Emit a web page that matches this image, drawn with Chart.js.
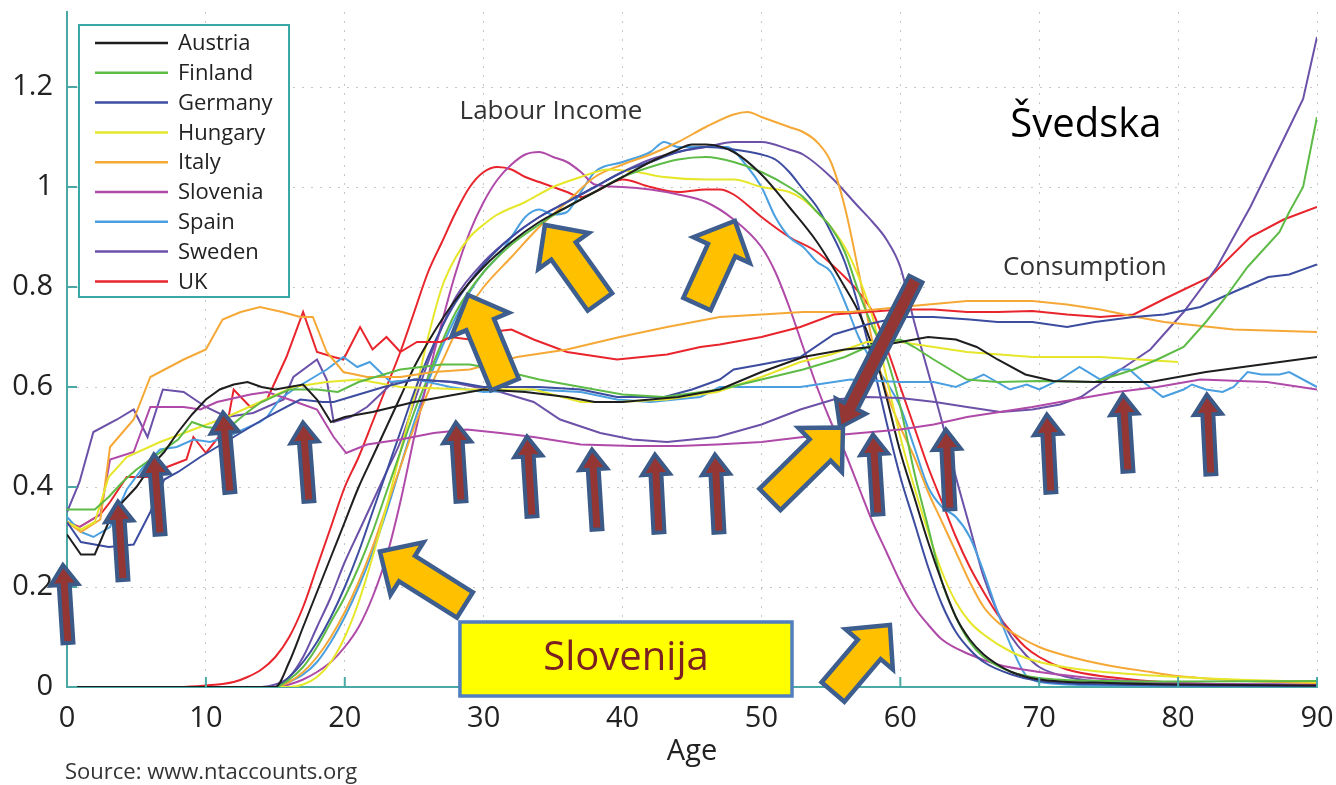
<!DOCTYPE html>
<html>
<head>
<meta charset="utf-8">
<script src="https://cdn.jsdelivr.net/npm/chart.js@4.4.0/dist/chart.umd.min.js"></script>
<style>
html, body { margin: 0; padding: 0; background: #fff; }
</style>
</head>
<body>
<canvas id="grafico" width="1336" height="785"></canvas>
<script>
const countries = ['Austria', 'Finland', 'Germany', 'Hungary', 'Italy', 'Slovenia', 'Spain', 'Sweden', 'UK'];
const colors = ['#1e1e1e', '#5dbb46', '#3c4da0', '#e6e62a', '#f5a836', '#b04aa8', '#4a9fe0', '#6b51a8', '#e8242c'];
const xTicks = [0, 10, 20, 30, 40, 50, 60, 70, 80, 90];
const yTicks = [0, 0.2, 0.4, 0.6, 0.8, 1, 1.2];

// labour income by age: [age, value]
const labAustria = [[0,0],[15,0],[16,0.05],[17,0.12],[18,0.19],[19,0.26],[20,0.33],[21,0.4],[22,0.46],[23,0.52],[24,0.58],[25,0.64],[26,0.69],[27,0.735],[28,0.775],[30,0.84],[32,0.89],[34,0.93],[36,0.96],[38,0.99],[40,1.02],[42,1.05],[44,1.075],[45,1.085],[46,1.085],[48,1.07],[50,1.025],[52,0.96],[54,0.89],[56,0.8],[57,0.75],[58,0.68],[59,0.58],[60,0.47],[61,0.38],[62,0.29],[63,0.21],[64,0.14],[65,0.095],[66,0.065],[67,0.045],[68,0.03],[70,0.015],[75,0.008],[80,0.005],[90,0.003]];
const labFinland = [[0,0],[15,0],[16,0.015],[17,0.04],[18,0.08],[19,0.13],[20,0.18],[21,0.24],[22,0.31],[23,0.39],[24,0.47],[25,0.55],[26,0.62],[27,0.69],[28,0.75],[30,0.83],[32,0.885],[34,0.925],[36,0.96],[38,0.99],[40,1.02],[42,1.04],[44,1.055],[46,1.06],[48,1.05],[50,1.03],[52,1.0],[53,0.98],[54,0.95],[55,0.92],[56,0.87],[57,0.79],[58,0.72],[59,0.66],[60,0.56],[61,0.43],[62,0.32],[63,0.21],[64,0.14],[65,0.09],[66,0.06],[68,0.03],[70,0.018],[75,0.012],[80,0.011],[90,0.012]];
const labGermany = [[0,0],[15,0],[16,0.02],[17,0.05],[18,0.09],[19,0.14],[20,0.2],[21,0.27],[22,0.35],[23,0.43],[24,0.51],[25,0.59],[26,0.66],[27,0.72],[28,0.77],[30,0.845],[32,0.9],[34,0.94],[36,0.97],[38,1.0],[40,1.03],[42,1.05],[44,1.07],[46,1.08],[48,1.075],[50,1.065],[51,1.055],[52,1.03],[53,0.995],[54,0.96],[55,0.91],[56,0.85],[57,0.76],[58,0.65],[59,0.53],[60,0.42],[61,0.33],[62,0.24],[63,0.165],[64,0.11],[65,0.075],[66,0.05],[68,0.025],[70,0.012],[75,0.005],[90,0.002]];
const labHungary = [[0,0],[16,0],[17,0.005],[18,0.02],[19,0.05],[20,0.1],[21,0.17],[22,0.26],[23,0.36],[24,0.47],[25,0.58],[26,0.7],[27,0.8],[28,0.86],[29,0.9],[30,0.925],[31,0.945],[33,0.97],[35,1.0],[37,1.02],[39,1.035],[41,1.03],[43,1.02],[46,1.015],[48,1.015],[50,1.0],[52,0.99],[53,0.975],[54,0.95],[55,0.92],[56,0.88],[57,0.82],[58,0.74],[59,0.62],[60,0.5],[61,0.4],[62,0.31],[63,0.23],[64,0.17],[65,0.13],[66,0.105],[68,0.07],[70,0.05],[73,0.035],[76,0.027],[80,0.02],[85,0.014],[90,0.01]];
const labItaly = [[0,0],[15,0],[16,0.01],[17,0.03],[18,0.06],[19,0.1],[20,0.15],[21,0.21],[22,0.28],[23,0.36],[24,0.44],[25,0.52],[26,0.59],[27,0.65],[28,0.71],[29,0.76],[30,0.8],[32,0.86],[34,0.92],[36,0.97],[38,1.02],[40,1.045],[42,1.065],[44,1.09],[46,1.12],[48,1.145],[49,1.15],[50,1.14],[52,1.12],[53,1.11],[54,1.09],[55,1.05],[56,0.96],[57,0.83],[58,0.69],[59,0.59],[60,0.52],[61,0.46],[62,0.39],[63,0.33],[64,0.27],[65,0.21],[66,0.16],[67,0.13],[68,0.11],[70,0.08],[72,0.062],[75,0.043],[78,0.03],[80,0.022],[85,0.012],[90,0.008]];
const labSlovenia = [[0,0],[15,0],[16,0.005],[17,0.015],[18,0.03],[19,0.05],[20,0.08],[21,0.12],[22,0.18],[23,0.26],[24,0.37],[25,0.5],[26,0.62],[27,0.73],[28,0.83],[29,0.91],[30,0.97],[31,1.015],[32,1.045],[33,1.065],[34,1.07],[35,1.06],[36,1.05],[37,1.03],[38,1.005],[40,1.0],[42,0.995],[44,0.985],[46,0.97],[48,0.935],[50,0.88],[51,0.83],[52,0.76],[53,0.68],[54,0.6],[55,0.53],[56,0.47],[57,0.4],[58,0.33],[59,0.27],[60,0.21],[61,0.16],[62,0.125],[63,0.095],[65,0.065],[67,0.045],[70,0.03],[75,0.015],[80,0.008],[90,0.004]];
const labSpain = [[0,0],[15,0],[16,0.01],[17,0.025],[18,0.05],[19,0.09],[20,0.14],[21,0.2],[22,0.27],[23,0.35],[24,0.44],[25,0.53],[26,0.61],[27,0.68],[28,0.74],[29,0.79],[30,0.83],[31,0.86],[32,0.9],[33,0.94],[34,0.955],[35,0.945],[36,0.95],[37,0.99],[38,1.03],[40,1.05],[42,1.07],[43,1.09],[44,1.08],[46,1.08],[47.5,1.08],[49,1.04],[50,1.0],[51,0.94],[52,0.9],[53,0.88],[54,0.85],[55,0.83],[56,0.77],[57,0.7],[58,0.65],[59,0.61],[60,0.56],[61,0.48],[62,0.4],[63,0.36],[64,0.34],[65,0.3],[66,0.23],[67,0.15],[68,0.08],[69,0.025],[70,0.01],[75,0.003],[90,0.002]];
const labSweden = [[0,0],[14,0],[15,0.005],[16,0.02],[17,0.06],[18,0.12],[19,0.18],[20,0.25],[21,0.31],[22,0.37],[23,0.43],[24,0.49],[25,0.57],[26,0.65],[27,0.72],[28,0.78],[30,0.85],[32,0.9],[34,0.94],[36,0.97],[38,1.0],[40,1.03],[42,1.055],[44,1.07],[46,1.08],[48,1.09],[50,1.09],[52,1.075],[53,1.065],[55,1.02],[57,0.96],[58,0.93],[59,0.895],[60,0.84],[61,0.73],[62,0.63],[63,0.53],[64,0.42],[65,0.32],[66,0.22],[67,0.15],[68,0.1],[69,0.065],[70,0.04],[72,0.02],[75,0.01],[90,0.005]];
const labUK = [[0,0],[8,0],[10,0.003],[12,0.01],[13,0.02],[14,0.035],[15,0.06],[16,0.1],[17,0.16],[18,0.24],[19,0.32],[20,0.4],[21,0.46],[22,0.53],[23,0.6],[24,0.67],[25,0.75],[26,0.83],[27,0.89],[28,0.95],[29,1.0],[30,1.03],[31,1.04],[32,1.035],[33,1.02],[34,1.01],[35,1.0],[36,0.99],[37,0.98],[38,0.99],[40,1.015],[42,1.0],[44,0.99],[46,0.995],[47,0.995],[48,0.985],[50,0.94],[52,0.9],[54,0.87],[56,0.82],[57,0.79],[58,0.75],[59,0.68],[60,0.6],[61,0.52],[62,0.44],[63,0.37],[64,0.3],[65,0.24],[66,0.19],[67,0.145],[68,0.11],[69,0.08],[70,0.06],[72,0.035],[75,0.02],[80,0.008],[90,0.003]];

// consumption by age: [age, value]
const conAustria = [[0,0.305],[1,0.265],[2,0.265],[3,0.33],[4,0.37],[5,0.4],[6,0.44],[7,0.47],[8,0.51],[9,0.545],[10,0.575],[11,0.595],[12,0.605],[13,0.61],[14,0.6],[15,0.595],[16,0.6],[17,0.605],[18,0.575],[19,0.53],[20,0.54],[22,0.55],[25,0.57],[28,0.585],[30,0.595],[33,0.59],[36,0.58],[38,0.57],[40,0.57],[42,0.575],[44,0.58],[47,0.595],[50,0.63],[53,0.66],[56,0.675],[58,0.68],[60,0.69],[62,0.7],[64,0.695],[65.5,0.68],[67,0.655],[69,0.625],[71,0.612],[74,0.61],[78,0.61],[80,0.62],[82,0.63],[86,0.645],[90,0.66]];
const conFinland = [[0,0.355],[2,0.355],[3,0.38],[4,0.41],[5,0.435],[6,0.455],[8,0.495],[9,0.53],[10,0.52],[11.5,0.515],[13,0.55],[14,0.57],[16,0.595],[18,0.595],[19.5,0.59],[21,0.61],[24,0.635],[27,0.645],[29,0.645],[31,0.635],[34,0.615],[37,0.6],[40,0.585],[43,0.58],[47,0.595],[50,0.615],[53,0.635],[56,0.66],[58,0.685],[60,0.695],[61,0.68],[62.4,0.655],[64.8,0.615],[67,0.61],[70,0.612],[74,0.61],[76.8,0.635],[78.5,0.655],[80.4,0.68],[82,0.73],[83.3,0.775],[85,0.84],[87.3,0.91],[88,0.95],[89,1.0],[90,1.14]];
const conGermany = [[0,0.33],[1,0.29],[3,0.28],[4.8,0.285],[6,0.35],[7,0.415],[8,0.43],[9.6,0.46],[12,0.5],[14.4,0.54],[16.8,0.575],[18.4,0.57],[19.2,0.57],[21,0.585],[22.8,0.6],[25,0.615],[28,0.61],[30,0.6],[34,0.6],[37,0.595],[39.6,0.58],[43,0.58],[45,0.595],[47,0.615],[48,0.635],[50,0.645],[52.8,0.66],[55.2,0.705],[57.6,0.725],[60,0.74],[62.4,0.74],[65,0.735],[67,0.73],[69.5,0.73],[72,0.72],[74,0.73],[76.8,0.74],[79,0.745],[81.6,0.76],[84,0.79],[86.5,0.82],[88,0.825],[90,0.845]];
const conHungary = [[0,0.33],[1,0.315],[2,0.33],[3,0.42],[4.3,0.46],[6.7,0.49],[9.1,0.515],[11.5,0.54],[13.9,0.57],[16.3,0.6],[18.7,0.61],[21,0.615],[24,0.6],[28.8,0.595],[33.6,0.595],[37,0.57],[39.6,0.57],[43.2,0.575],[46.8,0.59],[50,0.62],[52.8,0.65],[55,0.665],[57.6,0.69],[60,0.69],[64.8,0.67],[69.5,0.66],[74.4,0.66],[80,0.65]];
const conItaly = [[0,0.33],[1,0.31],[2.4,0.335],[3.1,0.48],[4.8,0.535],[6,0.62],[8.4,0.655],[10,0.675],[11.2,0.735],[12.5,0.75],[13.9,0.76],[15.5,0.75],[16.8,0.74],[17.7,0.74],[18.7,0.67],[19.9,0.63],[21.6,0.62],[24,0.62],[26.4,0.63],[29,0.635],[32.4,0.66],[36,0.675],[39.8,0.7],[43.2,0.72],[47,0.74],[50,0.745],[53,0.75],[56.4,0.75],[60,0.76],[64.8,0.772],[69.5,0.772],[72,0.765],[74.4,0.755],[77,0.74],[79,0.73],[84,0.715],[90,0.71]];
const conSlovenia = [[0,0.325],[0.9,0.32],[2.4,0.345],[3.1,0.455],[4.8,0.47],[6,0.56],[8.4,0.56],[9.6,0.555],[10.8,0.57],[13.2,0.585],[14.4,0.59],[16,0.575],[18,0.555],[19.2,0.5],[20.1,0.468],[21.6,0.485],[24,0.495],[26.4,0.508],[28.8,0.515],[31.2,0.508],[33.6,0.5],[37,0.485],[40.7,0.482],[44,0.482],[46.8,0.485],[50,0.49],[53,0.5],[55.9,0.505],[60,0.515],[62.4,0.525],[64.8,0.54],[69.5,0.56],[72.5,0.575],[75.6,0.59],[78.5,0.6],[81.6,0.615],[86.4,0.61],[90,0.595]];
const conSpain = [[0,0.34],[1,0.31],[1.9,0.3],[3.1,0.32],[4.3,0.395],[5.5,0.44],[6.7,0.475],[7.9,0.48],[9.1,0.495],[10.3,0.49],[11.5,0.5],[13.9,0.53],[14.4,0.54],[15.3,0.575],[16.3,0.595],[17.5,0.615],[18.7,0.635],[19.9,0.66],[20.9,0.64],[21.8,0.65],[23.3,0.61],[25.2,0.615],[27.6,0.6],[30,0.59],[33.6,0.595],[37,0.59],[39.6,0.575],[42,0.57],[45.6,0.58],[47,0.6],[50,0.6],[52.8,0.6],[56.4,0.615],[60,0.61],[62.4,0.61],[64,0.6],[66,0.625],[67.9,0.595],[69.1,0.605],[70,0.595],[71.5,0.615],[72.9,0.64],[74.4,0.615],[75.8,0.635],[76.5,0.635],[77.5,0.61],[78.9,0.58],[80.4,0.595],[81,0.605],[82,0.595],[83.2,0.59],[84,0.6],[85,0.63],[86,0.625],[87.3,0.625],[88,0.63],[90,0.6]];
const conSweden = [[0,0.35],[0.9,0.41],[1.9,0.51],[3.6,0.535],[4.8,0.555],[5.8,0.5],[6.9,0.595],[8.4,0.59],[10,0.56],[11.5,0.54],[13.4,0.548],[15.6,0.575],[16.3,0.62],[18,0.655],[18.7,0.615],[19.2,0.53],[20.4,0.54],[21.6,0.56],[23.5,0.61],[25.2,0.615],[27.6,0.61],[31.2,0.59],[33.6,0.57],[35.5,0.535],[38.4,0.508],[40.7,0.495],[43.2,0.49],[46.8,0.5],[50,0.525],[52.8,0.555],[55.2,0.575],[57.6,0.58],[60,0.578],[62.5,0.57],[64.8,0.56],[67.2,0.55],[69.5,0.555],[71.5,0.565],[73,0.58],[75.6,0.63],[78,0.675],[80.4,0.75],[82.8,0.84],[85.2,0.96],[87.6,1.096],[89,1.176],[90,1.3]];
const conUK = [[0,0.33],[0.9,0.32],[2.4,0.345],[3.1,0.37],[4.3,0.42],[6,0.42],[7.2,0.44],[8.6,0.455],[9.1,0.5],[10,0.468],[11.5,0.52],[12,0.595],[13.2,0.56],[14.4,0.575],[15.8,0.66],[17,0.75],[18,0.67],[19.2,0.66],[19.9,0.655],[21.1,0.72],[22,0.675],[23,0.7],[24,0.67],[25.2,0.69],[26.9,0.69],[27.6,0.7],[29,0.695],[30.5,0.71],[32,0.715],[33.6,0.695],[36,0.67],[39.6,0.655],[43.2,0.665],[45.6,0.68],[47,0.685],[50,0.7],[52.8,0.72],[55.2,0.745],[57.6,0.75],[60,0.755],[62.4,0.755],[64.8,0.75],[67,0.75],[69.5,0.752],[72,0.745],[74.4,0.74],[76.8,0.745],[79,0.776],[82.3,0.82],[85.2,0.9],[87.6,0.935],[90,0.96]];

const labour = [labAustria, labFinland, labGermany, labHungary, labItaly, labSlovenia, labSpain, labSweden, labUK];
const consumption = [conAustria, conFinland, conGermany, conHungary, conItaly, conSlovenia, conSpain, conSweden, conUK];

// annotations in data units: [tailAge, tailValue, tipAge, tipValue]
const upArrows = [
    [0.07, 0.088, -0.29, 0.244], [4.03, 0.214, 3.67, 0.371], [6.7, 0.305, 6.26, 0.465],
    [11.73, 0.389, 11.23, 0.549], [17.42, 0.371, 16.99, 0.529], [28.37, 0.371, 28.0, 0.529],
    [33.48, 0.341, 33.12, 0.501], [38.16, 0.315, 37.8, 0.475], [42.62, 0.309, 42.33, 0.465],
    [46.94, 0.309, 46.65, 0.465], [58.39, 0.345, 58.03, 0.505], [63.57, 0.355, 63.28, 0.515],
    [70.84, 0.389, 70.55, 0.545], [76.39, 0.431, 76.03, 0.585], [82.36, 0.425, 82.07, 0.585]
];
const orangeArrows = [
    [28.65, 0.164, 22.53, 0.271], [31.53, 0.605, 28.87, 0.784], [38.37, 0.77, 34.41, 0.924],
    [45.36, 0.766, 48.09, 0.932], [50.61, 0.375, 55.87, 0.519], [55.15, -0.01, 59.25, 0.124]
];
const bigArrow = [61.12, 0.816, 55.65, 0.519];

const font = '"Open Sans", "DejaVu Sans", sans-serif';

function blockArrow(ctx, x1, y1, x2, y2, shaft, head, headLen, fill, stroke, lw) {
    const len = Math.hypot(x2 - x1, y2 - y1);
    const ux = (x2 - x1) / len, uy = (y2 - y1) / len;
    const nx = -uy, ny = ux;
    const bx = x2 - ux * headLen, by = y2 - uy * headLen;
    ctx.beginPath();
    ctx.moveTo(x1 + nx * shaft / 2, y1 + ny * shaft / 2);
    ctx.lineTo(bx + nx * shaft / 2, by + ny * shaft / 2);
    ctx.lineTo(bx + nx * head / 2, by + ny * head / 2);
    ctx.lineTo(x2, y2);
    ctx.lineTo(bx - nx * head / 2, by - ny * head / 2);
    ctx.lineTo(bx - nx * shaft / 2, by - ny * shaft / 2);
    ctx.lineTo(x1 - nx * shaft / 2, y1 - ny * shaft / 2);
    ctx.closePath();
    ctx.fillStyle = fill;
    ctx.fill();
    ctx.lineJoin = 'miter';
    ctx.lineWidth = lw;
    ctx.strokeStyle = stroke;
    ctx.stroke();
}

const decorations = {
    id: 'decorations',
    afterDraw(chart) {
        const ctx = chart.ctx;
        const xs = chart.scales.x, ys = chart.scales.y;
        const area = chart.chartArea;
        const px = a => xs.getPixelForValue(a);
        const py = v => ys.getPixelForValue(v);
        ctx.save();

        // short inward ticks on both axes
        ctx.strokeStyle = '#4aa9a5';
        ctx.lineWidth = 2;
        yTicks.forEach(v => {
            ctx.beginPath(); ctx.moveTo(area.left, py(v)); ctx.lineTo(area.left + 10, py(v)); ctx.stroke();
        });
        xTicks.forEach(a => {
            ctx.beginPath(); ctx.moveTo(px(a), area.bottom); ctx.lineTo(px(a), area.bottom - 10); ctx.stroke();
        });

        // legend
        const lx = area.left + 12, ly = area.top + 13;
        ctx.fillStyle = '#fff';
        ctx.fillRect(lx, ly, 210, 272);
        ctx.strokeStyle = '#3aa8a6';
        ctx.lineWidth = 2;
        ctx.strokeRect(lx, ly, 210, 272);
        ctx.font = '22px ' + font;
        ctx.textBaseline = 'middle';
        ctx.textAlign = 'left';
        countries.forEach((c, i) => {
            const y = ly + 18 + i * 29.8;
            ctx.strokeStyle = colors[i];
            ctx.lineWidth = 2.5;
            ctx.beginPath(); ctx.moveTo(lx + 16, y); ctx.lineTo(lx + 89, y); ctx.stroke();
            ctx.fillStyle = '#222';
            ctx.fillText(c, lx + 99, y + 1);
        });

        // labels
        ctx.textAlign = 'center';
        ctx.fillStyle = '#333';
        ctx.font = '26px ' + font;
        ctx.fillText('Labour Income', px(34.85), py(1.15));
        ctx.fillText('Consumption', px(73.29), py(0.838));
        ctx.fillStyle = '#000';
        ctx.font = '40px ' + font;
        ctx.fillText('Švedska', px(73.36), py(1.122));

        // source
        ctx.textAlign = 'left';
        ctx.fillStyle = '#333';
        ctx.font = '22px ' + font;
        ctx.fillText('Source: www.ntaccounts.org', area.left - 2, chart.height - 12);

        // arrows
        upArrows.forEach(a => blockArrow(ctx, px(a[0]), py(a[1]), px(a[2]), py(a[3]), 11, 28, 20, '#943634', '#3b5a87', 4));
        blockArrow(ctx, px(bigArrow[0]), py(bigArrow[1]), px(bigArrow[2]), py(bigArrow[3]), 15, 34, 24, '#943634', '#3b5a87', 4);
        orangeArrows.forEach(a => blockArrow(ctx, px(a[0]), py(a[1]), px(a[2]), py(a[3]), 30, 62, 32, '#ffc000', '#3d5e8e', 4.5));

        // Slovenija box
        const bx1 = px(28.29), bx2 = px(52.2), by1 = py(0.13), by2 = py(-0.018);
        ctx.fillStyle = '#ffff00';
        ctx.fillRect(bx1, by1, bx2 - bx1, by2 - by1);
        ctx.strokeStyle = '#4f7fc0';
        ctx.lineWidth = 3.5;
        ctx.strokeRect(bx1, by1, bx2 - bx1, by2 - by1);
        ctx.fillStyle = '#7b1f22';
        ctx.font = '40px ' + font;
        ctx.textAlign = 'center';
        ctx.textBaseline = 'middle';
        ctx.fillText('Slovenija', (bx1 + bx2) / 2, (by1 + by2) / 2);

        ctx.restore();
    }
};

const datasets = [];
consumption.forEach((serie, i) => {
    datasets.push({
        label: countries[i] + ' consumption',
        data: serie.map(p => ({ x: p[0], y: p[1] })),
        borderColor: colors[i],
        borderWidth: 2,
        pointRadius: 0,
        tension: 0
    });
});
labour.forEach((serie, i) => {
    datasets.push({
        label: countries[i] + ' labour income',
        data: serie.map(p => ({ x: p[0], y: p[1] })),
        borderColor: colors[i],
        borderWidth: 2,
        pointRadius: 0,
        cubicInterpolationMode: 'monotone'
    });
});

new Chart(document.getElementById('grafico').getContext('2d'), {
    type: 'line',
    data: { datasets: datasets },
    options: {
        responsive: false,
        animation: false,
        layout: { padding: { top: 12, right: 19, left: 0, bottom: 0 } },
        plugins: { legend: { display: false }, tooltip: { enabled: false } },
        scales: {
            x: {
                type: 'linear',
                min: 0,
                max: 90,
                afterBuildTicks: s => { s.ticks = xTicks.map(v => ({ value: v })); },
                afterFit: s => { s.height = 98; s.paddingLeft = 0; s.paddingRight = 0; },
                ticks: { padding: 14, color: '#222', font: { size: 29, family: font }, maxRotation: 0 },
                grid: { color: '#c8c8c8', drawTicks: false },
                border: { color: '#4aa9a5', width: 2, dash: [2, 7] },
                title: { display: true, text: 'Age', color: '#222', font: { size: 29, family: font }, padding: { top: 0, bottom: 16 } }
            },
            y: {
                min: 0,
                max: 1.35,
                afterBuildTicks: s => { s.ticks = yTicks.map(v => ({ value: v })); },
                afterFit: s => { s.width = 67; s.paddingTop = 0; s.paddingBottom = 0; },
                ticks: { padding: 14, color: '#222', font: { size: 29, family: font }, callback: v => String(Math.round(v * 10) / 10) },
                grid: { color: '#c8c8c8', drawTicks: false },
                border: { color: '#4aa9a5', width: 2, dash: [2, 7] }
            }
        }
    },
    plugins: [decorations]
});
</script>
</body>
</html>
